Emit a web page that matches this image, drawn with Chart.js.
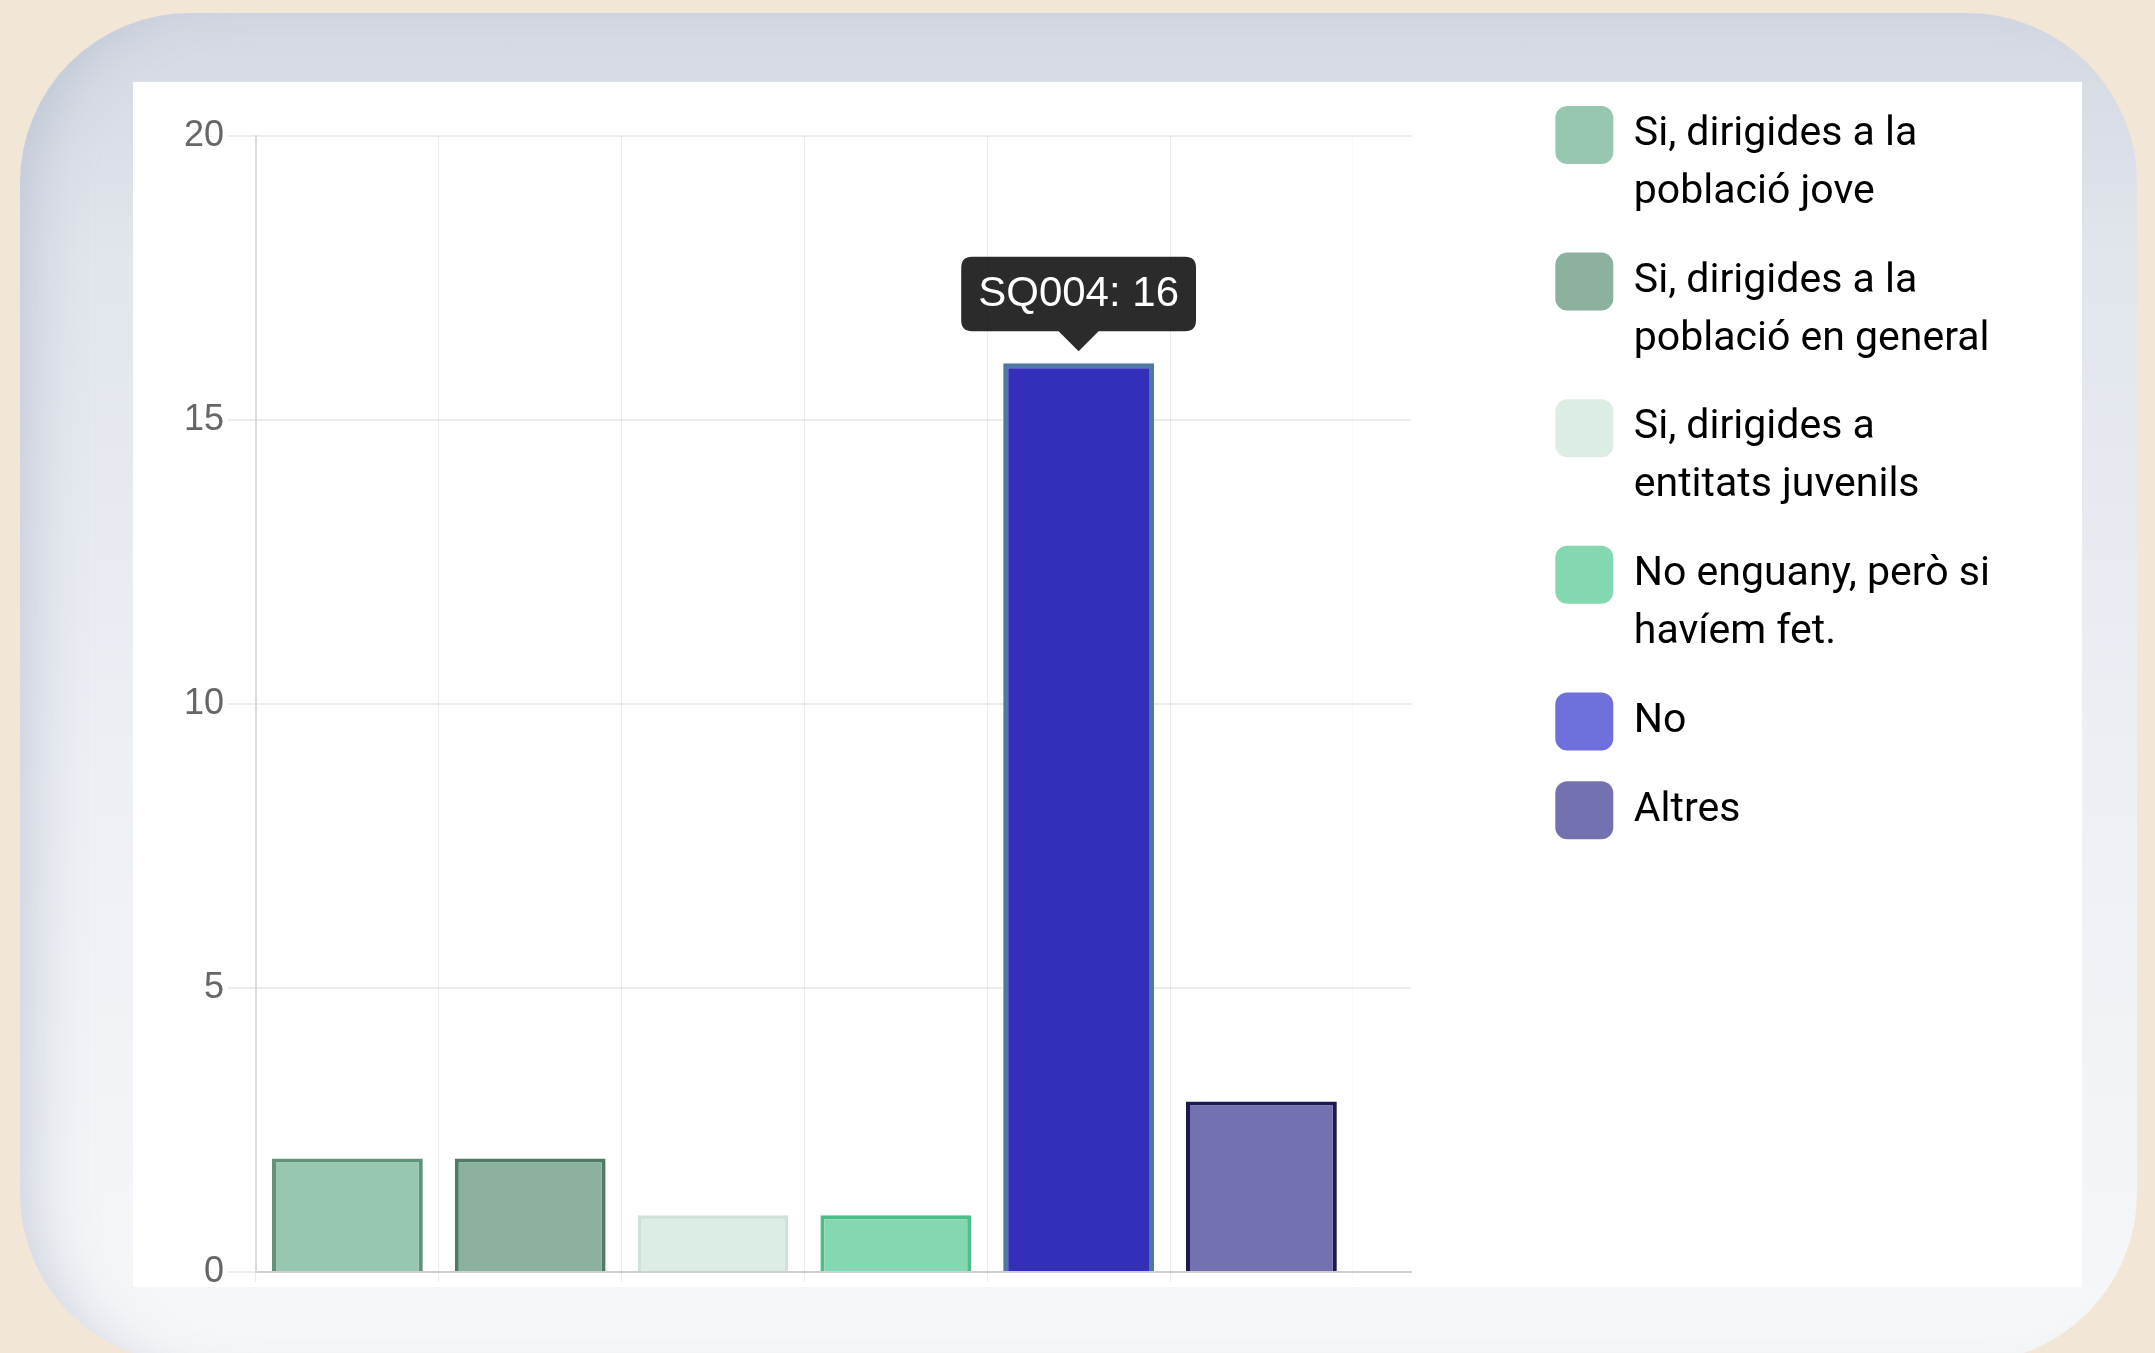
<!DOCTYPE html>
<html lang="ca">
<head>
<meta charset="utf-8">
<title>Resultats</title>
<script src="https://cdn.jsdelivr.net/npm/chart.js@4.4.1/dist/chart.umd.min.js"></script>
<style>
  html, body { margin: 0; padding: 0; width: 2155px; height: 1353px; overflow: hidden; background: #f2e6d6; }
  .card {
    position: absolute; left: 20px; top: 13px; width: 2117px; height: 1350px;
    border-radius: 170px;
    background: linear-gradient(180deg, #d3d8e2 0%, #e1e5ec 18%, #eceff4 55%, #f6f7f9 100%);
    box-shadow: inset 45px 0 60px -35px rgba(150, 160, 185, 0.45);
  }
  .panel { position: absolute; left: 133px; top: 82px; width: 1949px; height: 1205px; background: #fff; }
  #chart { position: absolute; left: 133px; top: 62px; }
</style>
</head>
<body>
<div class="card"></div>
<div class="panel"></div>
<canvas id="chart" width="1949" height="1238"></canvas>
<script>
// Data
const answers = [
    ['Si, dirigides a la', 'població jove'],
    ['Si, dirigides a la', 'població en general'],
    ['Si, dirigides a', 'entitats juvenils'],
    ['No enguany, però si', 'havíem fet.'],
    ['No'],
    ['Altres']
];
const codes = ['SQ001', 'SQ002', 'SQ003', 'SQ005', 'SQ004', 'SQ006'];
const counts = [2, 2, 1, 1, 16, 3];
const yTicks = [0, 5, 10, 15, 20];

// Colours
const fillColors = ['#97c7b1', '#8cb19f', '#dcede4', '#84d8b1', '#7070dc', '#7471b1'];
const borderColors = ['#5f9478', '#4f7b62', '#cfe0d6', '#4cbf88', '#4b4bb8', '#1c1953'];
const hoverFill = ['#8fbfa9', '#84a997', '#d4e5dc', '#7cd0a9', '#332fba', '#6c69a9'];
const hoverBorder = ['#5f9478', '#4f7b62', '#cfe0d6', '#4cbf88', '#4e79a7', '#1c1953'];

const gridColor = 'rgba(0, 0, 0, 0.075)';
Chart.defaults.font.family = "'Liberation Sans', Arial, sans-serif";

const ctx = document.getElementById('chart').getContext('2d');

const chart = new Chart(ctx, {
    type: 'bar',
    data: {
        labels: codes,
        datasets: [{
            data: counts,
            backgroundColor: fillColors,
            borderColor: borderColors,
            hoverBackgroundColor: hoverFill,
            hoverBorderColor: hoverBorder,
            borderWidth: 4,
            hoverBorderWidth: 5,
            categoryPercentage: 0.825,
            barPercentage: 1
        }]
    },
    options: {
        responsive: false,
        devicePixelRatio: 1,
        animation: false,
        events: [],
        layout: { padding: { top: 13, right: 82, bottom: 18, left: 0 } },
        scales: {
            x: {
                ticks: { display: false },
                grid: {
                    offset: true,
                    color: (c) => c.index === undefined ? 'rgba(0, 0, 0, 0.02)' : gridColor,
                    tickLength: 10
                },
                border: { color: '#cfcfcf', width: 2 },
                // leave some empty room after the last bar, like the original
                afterBuildTicks: (s) => { s._valueRange = counts.length + 0.32; }
            },
            y: {
                min: yTicks[0],
                max: yTicks[yTicks.length - 1],
                ticks: { stepSize: 5, color: '#666', padding: 4, font: { size: 36 } },
                grid: { color: gridColor, tickLength: 28, lineWidth: 2 },
                border: { color: '#dadada', width: 2 },
                afterFit: (s) => { s.width = 123; s.paddingTop = 74; }
            },
            gap: {
                position: 'right',
                display: true,
                ticks: { display: false },
                grid: { display: false, drawOnChartArea: false },
                border: { display: false },
                afterFit: (s) => { s.width = 113; }
            }
        },
        plugins: {
            legend: {
                position: 'right',
                align: 'start',
                maxWidth: 800,
                labels: {
                    boxWidth: 58,
                    boxHeight: 58,
                    padding: 31,
                    color: '#333',
                    font: { family: 'Roboto', size: 41, lineHeight: 1.41 },
                    generateLabels: () => answers.map((text, i) => ({
                        text: text,
                        fillStyle: fillColors[i],
                        strokeStyle: fillColors[i],
                        lineWidth: 0,
                        borderRadius: 12,
                        hidden: false,
                        index: i
                    }))
                }
            },
            tooltip: {
                displayColors: false,
                backgroundColor: 'rgba(0, 0, 0, 0.83)',
                bodyColor: '#fff',
                bodyFont: { size: 42 },
                padding: { x: 17, y: 12 },
                caretSize: 20,
                caretPadding: 12,
                cornerRadius: 11,
                xAlign: 'center',
                yAlign: 'bottom',
                callbacks: {
                    title: () => '',
                    label: (c) => codes[c.dataIndex] + ': ' + c.parsed.y
                }
            }
        }
    }
});

// Show the hovered bar with its tooltip
const active = [{ datasetIndex: 0, index: 4 }];
chart.setActiveElements(active);
chart.tooltip.setActiveElements(active, { x: 0, y: 0 });
chart.update();
</script>
</body>
</html>
